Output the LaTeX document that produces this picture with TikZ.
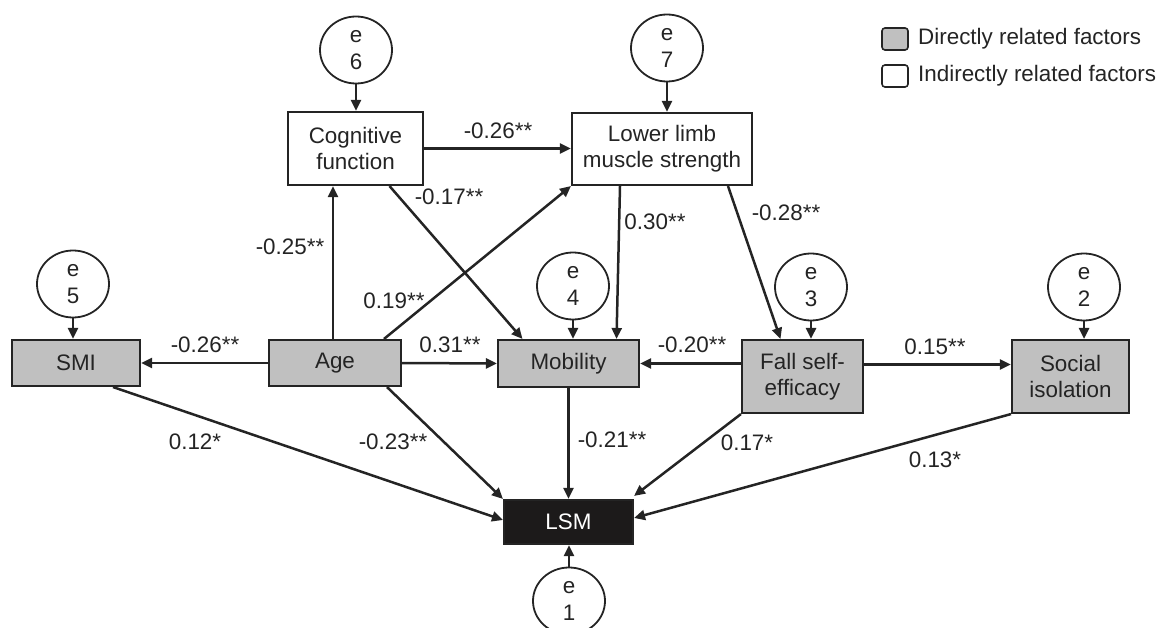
\documentclass[tikz,border=0pt]{standalone}
\usepackage{fontspec}
\setmainfont{Liberation Sans}
\usetikzlibrary{arrows.meta,shapes.geometric,positioning}
\definecolor{boxgray}{RGB}{192,192,192}
\definecolor{ink}{RGB}{36,36,36}
\definecolor{lsmfill}{RGB}{28,26,26}
\tikzset{
  every node/.style={font=\fontsize{22.4pt}{26pt}\selectfont, text=ink},
  var/.style={draw=ink, line width=2.1pt, align=center, inner sep=2pt},
  direct/.style={var, fill=boxgray},
  indirect/.style={var, fill=white},
  outcome/.style={var, fill=lsmfill, text=white},
  err/.style={draw=ink, line width=1.8pt, ellipse, minimum width=72pt, minimum height=67pt, inner sep=0pt, align=center, font=\fontsize{22.4pt}{27pt}\selectfont},
  path/.style={draw=ink, line width=2.5pt, -{Triangle[length=11pt,width=10pt]}},
  coef/.style={inner sep=1pt},
  legendbox/.style={draw=ink, line width=1.6pt, rounded corners=3pt, minimum width=26pt, minimum height=22pt, inner sep=0pt}
}
\begin{document}
\begin{tikzpicture}[x=1pt,y=-1pt]
\useasboundingbox (0,0) rectangle (1159,628);

% observed variables
\node[direct, minimum width=128pt, minimum height=46pt] (smi) at (76,363) {SMI};
\node[direct, minimum width=132pt, minimum height=46pt] (age) at (335,363) {Age};
\node[direct, minimum width=141pt, minimum height=47pt] (mob) at (568.5,363.5) {Mobility};
\node[direct, minimum width=121pt, minimum height=73pt] (fall) at (802.5,376.5) {Fall self-\\efficacy};
\node[direct, minimum width=117pt, minimum height=73pt] (soc) at (1070.5,376.5) {Social\\isolation};
\node[indirect, minimum width=135pt, minimum height=73pt] (cog) at (355.5,148.5) {Cognitive\\function};
\node[indirect, minimum width=180pt, minimum height=72pt] (llm) at (662,149) {Lower limb\\muscle strength};
\node[outcome, minimum width=129pt, minimum height=44pt] (lsm) at (568.5,522) {LSM};

% error terms
\node[err] (e6) at (356,50) {e\\6};
\node[err] (e7) at (667,48) {e\\7};
\node[err] (e5) at (73,284) {e\\5};
\node[err] (e4) at (573,286) {e\\4};
\node[err] (e3) at (811,287) {e\\3};
\node[err] (e2) at (1084,287) {e\\2};
\node[err] (e1) at (569,601) {e\\1};

% error paths
\draw[path] (e6.south) -- (e6.south |- cog.north);
\draw[path] (e7.south) -- (e7.south |- llm.north);
\draw[path] (e5.south) -- (e5.south |- smi.north);
\draw[path] (e4.south) -- (e4.south |- mob.north);
\draw[path] (e3.south) -- (e3.south |- fall.north);
\draw[path] (e2.south) -- (e2.south |- soc.north);
\draw[path] (e1.north) -- (e1.north |- lsm.south);

% structural paths
\draw[path] (age.west) -- (smi.east);
\draw[path] ([xshift=-2pt]age.north) -- ([xshift=-2pt]age.north |- cog.south);
\draw[path] ([xshift=49pt]age.north) -- (llm.south west);
\draw[path] (age.east) -- (mob.west);
\draw[path] ([xshift=52pt]age.south) -- (lsm.north west);
\draw[path] ([xshift=37pt]smi.south) -- ([yshift=2pt]lsm.west);
\draw[path] (cog.east) -- (cog.east -| llm.west);
\draw[path] ([xshift=34pt]cog.south) -- ([xshift=-46pt]mob.north);
\draw[path] ([xshift=-42pt]llm.south) -- ([xshift=48pt]mob.north);
\draw[path] ([xshift=66pt]llm.south) -- ([xshift=-22pt]fall.north);
\draw[path] (mob.east -| fall.west) -- (mob.east);
\draw[path] ([yshift=-1pt]mob.east -| fall.east) -- ([yshift=-1pt]mob.east -| soc.west);
\draw[path] (mob.south) -- (lsm.north);
\draw[path] (fall.south west) -- ([yshift=3pt]lsm.north east);
\draw[path] (soc.south west) -- ([yshift=4pt]lsm.east);

% path coefficients
\node[coef] (c1) at (205,345) {-0.26**};
\node[coef] (c2) at (290,247) {-0.25**};
\node[coef] (c3) at (394,301) {0.19**};
\node[coef] (c4) at (450,345) {0.31**};
\node[coef] (c5) at (498,131) {-0.26**};
\node[coef] (c6) at (449,197) {-0.17**};
\node[coef] (c7) at (655,222) {0.30**};
\node[coef] (c8) at (786,213) {-0.28**};
\node[coef] (c9) at (692,345) {-0.20**};
\node[coef] (c10) at (935,347) {0.15**};
\node[coef] (c11) at (612,440) {-0.21**};
\node[coef] (c12) at (195,442) {0.12*};
\node[coef] (c13) at (393,442) {-0.23**};
\node[coef] (c14) at (747,443) {0.17*};
\node[coef] (c15) at (935,460) {0.13*};

% legend
\node[legendbox, fill=boxgray] (lg1) at (895,39) {};
\node[legendbox, fill=white] (lg2) at (895,76) {};
\node[anchor=west, inner sep=0pt] (lt1) at (918,39) {Directly related factors};
\node[anchor=west, inner sep=0pt] (lt2) at (918,76) {Indirectly related factors};
\end{tikzpicture}
\end{document}
